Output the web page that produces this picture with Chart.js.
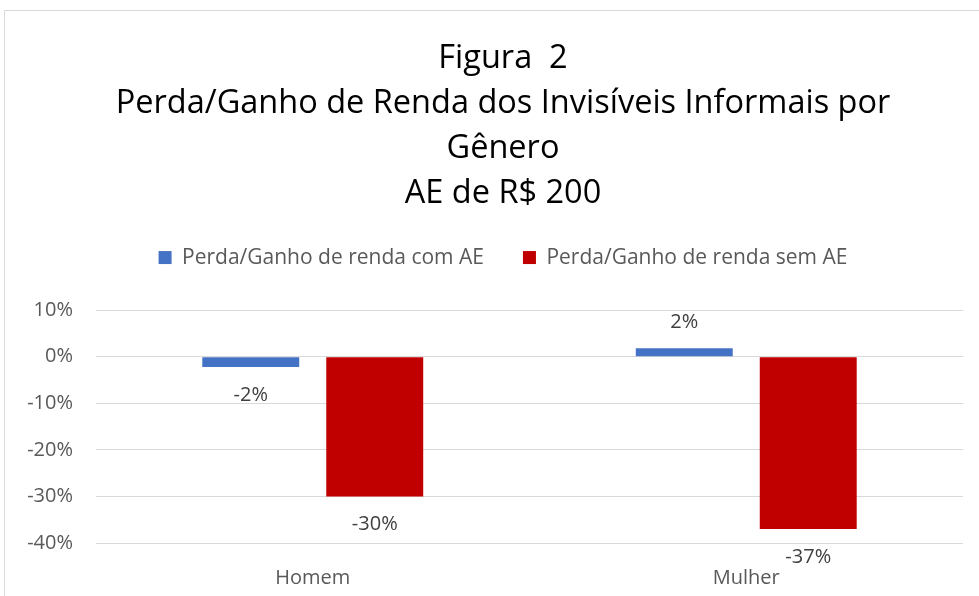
<!DOCTYPE html>
<html>
<head>
<meta charset="utf-8">
<script src="https://cdn.jsdelivr.net/npm/chart.js@4"></script>
<style>
html,body{margin:0;padding:0;background:#fff;overflow:hidden;}
#wrap{position:absolute;left:0;top:0;width:979px;height:596px;}
</style>
</head>
<body>
<div id="wrap"><canvas id="c" width="979" height="596"></canvas></div>
<script>
const categories = ["Homem", "Mulher"];
const seriesNames = ["Perda/Ganho de renda com AE", "Perda/Ganho de renda sem AE"];
const comAE = [-0.022, 0.018];
const semAE = [-0.30, -0.37];
const yTicks = [0.1, 0, -0.1, -0.2, -0.3, -0.4];
const titleLines = ["Figura  2", "Perda/Ganho de Renda dos Invisíveis Informais por", "Gênero", "AE de R$ 200"];

const FONT = "'Open Sans', sans-serif";

const borderPlugin = {
  id: 'frame',
  beforeDraw(chart) {
    const ctx = chart.ctx;
    ctx.save();
    ctx.fillStyle = '#fff';
    ctx.fillRect(0, 0, chart.width, chart.height);
    ctx.strokeStyle = '#d9d9d9';
    ctx.lineWidth = 1;
    ctx.beginPath();
    ctx.moveTo(4.5, chart.height);
    ctx.lineTo(4.5, 10.5);
    ctx.lineTo(chart.width, 10.5);
    ctx.stroke();
    ctx.restore();
  }
};

const labelPlugin = {
  id: 'valueLabels',
  afterDatasetsDraw(chart) {
    const ctx = chart.ctx;
    ctx.save();
    ctx.font = "20px " + FONT;
    ctx.fillStyle = '#404040';
    ctx.textAlign = 'center';
    ctx.textBaseline = 'middle';
    chart.data.datasets.forEach((ds, di) => {
      const meta = chart.getDatasetMeta(di);
      meta.data.forEach((el, i) => {
        const v = ds.data[i];
        const txt = Math.round(v * 100) + '%';
        const y = v < 0 ? el.y + 28 : el.y - 26;
        ctx.fillText(txt, el.x, y);
      });
    });
    ctx.restore();
  }
};

const legendSpace = {
  id: 'legendSpace',
  beforeInit(chart) {
    const orig = chart.legend.fit;
    chart.legend.fit = function () {
      orig.bind(chart.legend)();
      this.height += 32;
    };
  },
  afterLayout(chart) {
    // the reference chart frame is wider than the visible crop: centre title/legend on it
    if (chart.titleBlock) chart.titleBlock.left += 43;
    if (chart.legend) chart.legend.left += 43;
  }
};

new Chart(document.getElementById('c'), {
  type: 'bar',
  data: {
    labels: categories,
    datasets: [
      { label: seriesNames[0], data: comAE, backgroundColor: '#4472C4', borderWidth: 0 },
      { label: seriesNames[1], data: semAE, backgroundColor: '#C00000', borderWidth: 0 }
    ]
  },
  options: {
    responsive: false,
    animation: false,
    devicePixelRatio: 1,
    layout: { padding: { left: 0, right: 16, top: 0, bottom: 0 } },
    datasets: { bar: { categoryPercentage: 0.572, barPercentage: 0.782 } },
    plugins: {
      tooltip: { enabled: false },
      title: {
        display: true,
        text: titleLines,
        color: '#000',
        font: { family: FONT, size: 32.5, weight: 'normal', lineHeight: 1.385 },
        padding: { top: 36, bottom: -8 }
      },
      legend: {
        display: true,
        position: 'top',
        labels: {
          color: '#595959',
          font: { family: FONT, size: 21 },
          boxWidth: 13,
          boxHeight: 13,
          padding: 39
        }
      }
    },
    scales: {
      x: {
        afterFit(scale) { scale.height = 53; },
        grid: { display: false },
        border: { display: false },
        ticks: { color: '#595959', font: { family: FONT, size: 20 }, padding: 15 }
      },
      y: {
        min: -0.4,
        max: 0.1,
        afterFit(scale) { scale.width = 96; },
        afterBuildTicks(scale) { scale.ticks = yTicks.map(v => ({ value: v })); },
        grid: { color: '#d9d9d9', drawTicks: false, lineWidth: 1 },
        border: { display: false },
        ticks: {
          color: '#595959',
          font: { family: FONT, size: 20 },
          padding: 23,
          callback: (v) => Math.round(v * 100) + '%'
        }
      }
    }
  },
  plugins: [borderPlugin, labelPlugin, legendSpace]
});
</script>
</body>
</html>
